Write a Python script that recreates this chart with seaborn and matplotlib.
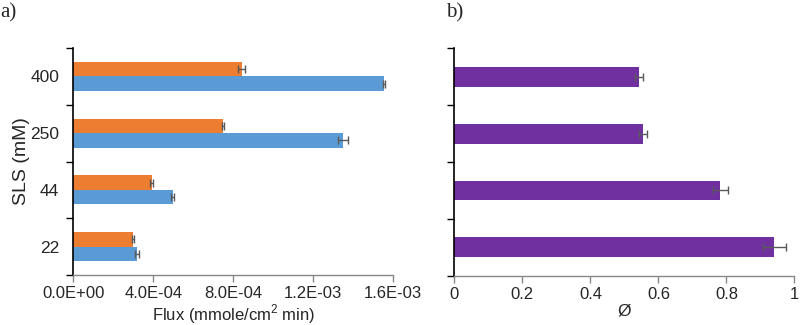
import matplotlib
matplotlib.use("Agg")
import matplotlib.pyplot as plt
import seaborn as sns
import numpy as np
import pandas as pd

# SLS concentrations (top to bottom) and measured values
sls = ['400', '250', '44', '22']
series = ['A', 'B']
flux_a = [8.43e-4, 7.49e-4, 3.93e-4, 2.98e-4]      # orange
flux_a_err = [1.8e-5, 0.5e-5, 0.8e-5, 0.5e-5]
flux_b = [1.553e-3, 1.349e-3, 4.98e-4, 3.18e-4]    # blue
flux_b_err = [0.5e-5, 2.7e-5, 0.8e-5, 1.0e-5]
phi = [0.543, 0.555, 0.782, 0.941]
phi_err = [0.013, 0.0125, 0.022, 0.034]

flux_ticks = [0, 4e-4, 8e-4, 1.2e-3, 1.6e-3]
phi_ticks = [0, 0.2, 0.4, 0.6, 0.8, 1]

colors = {'A': '#ED7D31', 'B': '#5B9BD5'}
purple = '#7030A0'
err_color = '#595959'

sns.set_theme(style='ticks')
plt.rcParams['font.family'] = ['Liberation Sans', 'DejaVu Sans']
plt.rcParams['mathtext.fontset'] = 'custom'
plt.rcParams['mathtext.rm'] = 'Liberation Sans'

df_flux = pd.DataFrame({
    'SLS': sls * 2,
    'series': [series[0]] * 4 + [series[1]] * 4,
    'flux': flux_a + flux_b,
    'err': flux_a_err + flux_b_err,
})
df_phi = pd.DataFrame({'SLS': sls, 'phi': phi, 'err': phi_err})

fig = plt.figure(figsize=(8, 3.25), dpi=100)
ax1 = fig.add_axes([0.0915, 0.154, 0.4, 0.698])
ax2 = fig.add_axes([0.568, 0.151, 0.425, 0.701])

sns.barplot(data=df_flux, y='SLS', x='flux', hue='series', order=sls,
            hue_order=series, palette=colors, orient='h', width=0.51,
            errorbar=None, saturation=1, legend=False, ax=ax1)
sns.barplot(data=df_phi, y='SLS', x='phi', order=sls, color=purple,
            orient='h', width=0.35, errorbar=None, saturation=1, ax=ax2)


def add_errors(ax, vals, errs):
    for p in ax.patches:
        w = p.get_width()
        idx = [i for i, v in enumerate(vals) if np.isclose(v, w)]
        if not idx:
            continue
        i = idx[0]
        yc = p.get_y() + p.get_height() / 2
        ax.errorbar(w, yc, xerr=errs[i], fmt='none', ecolor=err_color,
                    elinewidth=1, capsize=3, capthick=1, zorder=5)


add_errors(ax1, flux_a + flux_b, flux_a_err + flux_b_err)
add_errors(ax2, phi, phi_err)

for ax in (ax1, ax2):
    for p in ax.patches:
        p.set_edgecolor('none')
    sns.despine(ax=ax)
    ax.set_ylim(3.5, -0.5)
    ax.set_yticks(range(len(sls)))
    ax.set_yticks(np.arange(-0.5, len(sls), 1), minor=True)
    ax.tick_params(axis='y', which='major', length=0, pad=10)
    ax.tick_params(axis='y', which='minor', length=5, width=1, color='black')
    ax.tick_params(axis='x', length=5, width=1, color='#888888', pad=3)
    ax.spines['left'].set_color('black')
    ax.spines['left'].set_linewidth(1.2)
    ax.spines['bottom'].set_color('#888888')
    ax.spines['bottom'].set_linewidth(1)

ax1.set_xlim(0, 1.6e-3)
ax1.set_xticks(flux_ticks)
ax1.set_xticklabels(['{:.1E}'.format(t) for t in flux_ticks], fontsize=12)
ax1.set_yticklabels(sls, fontsize=12.5)
ax1.set_ylabel('SLS (mM)', fontsize=14, labelpad=0)
ax1.set_xlabel('Flux (mmole/cm$^{2}$ min)', fontsize=12, labelpad=1)

ax2.set_xlim(0, 1)
ax2.set_xticks(phi_ticks)
ax2.set_xticklabels([f'{t:g}' for t in phi_ticks], fontsize=12)
ax2.set_yticklabels([])
ax2.set_ylabel('')
ax2.set_xlabel('Ø', fontsize=12.5, labelpad=1)

fig.text(0.0, 0.99, 'a)', fontsize=15, family='Liberation Serif', va='top')
fig.text(0.557, 0.99, 'b)', fontsize=15, family='Liberation Serif', va='top')

fig.savefig('out.png', dpi=100, facecolor='white')
